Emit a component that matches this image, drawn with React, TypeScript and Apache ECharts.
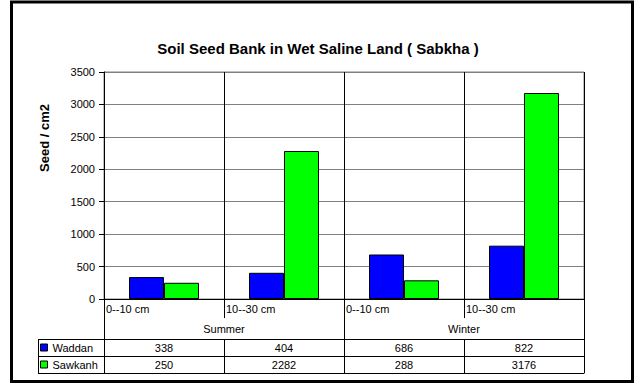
import React, { useEffect, useRef } from "react";
import * as echarts from "echarts";

const categories = ["0--10 cm", "10--30 cm", "0--10 cm", "10--30 cm"];
const seasons = ["Summer", "Winter"];
const waddan = [338, 404, 686, 822];
const sawkanh = [250, 2282, 288, 3176];
const seriesNames = ["Waddan", "Sawkanh"];
const yTicks = { min: 0, max: 3500, interval: 500 };

const FONT = "'Liberation Sans', Arial, sans-serif";

export default function App() {
  const ref = useRef<HTMLDivElement>(null);
  useEffect(() => {
    if (!ref.current) return;
    const chart = echarts.init(ref.current, null, { renderer: "svg" });
    const black = "#000";
    const tableAxis = (data: string[], offset: number, tickLen: number, margin: number) => ({
      type: "category",
      gridIndex: 0,
      position: "bottom",
      offset,
      data,
      axisLine: { show: true, lineStyle: { color: black, width: 1 } },
      axisTick: { show: true, inside: true, length: tickLen, interval: 0, lineStyle: { color: black } },
      axisLabel: { show: true, inside: true, margin, interval: 0, color: black, fontSize: 11, fontFamily: FONT },
      splitLine: { show: false },
    });
    chart.setOption({
      animation: false,
      backgroundColor: "#fff",
      textStyle: { fontFamily: FONT },
      title: {
        text: "Soil Seed Bank in Wet Saline Land ( Sabkha )",
        left: "center",
        top: 36,
        textStyle: { fontSize: 15, fontWeight: "bold", color: black, fontFamily: FONT },
      },
      legend: {
        data: seriesNames,
        orient: "vertical",
        left: 40,
        top: 341,
        padding: 0,
        icon: "rect",
        itemWidth: 7,
        itemHeight: 7,
        itemGap: 4,
        itemStyle: { borderColor: black, borderWidth: 1 },
        textStyle: { fontSize: 11, color: black, fontFamily: FONT, height: 13, lineHeight: 13, verticalAlign: "middle" },
        selectedMode: false,
      },
      grid: { left: 104, top: 72, width: 480, height: 227, show: true, borderColor: "#808080", borderWidth: 1 },
      xAxis: [
        {
          type: "category",
          data: categories,
          position: "bottom",
          axisLine: { show: true, lineStyle: { color: black, width: 1 } },
          axisTick: { show: true, length: 19, interval: 0, lineStyle: { color: black } },
          axisLabel: {
            interval: 0,
            margin: 4,
            color: black,
            fontSize: 11,
            fontFamily: FONT,
            formatter: (v: string) => `{l|${v}}`,
            rich: { l: { width: 116, align: "left", fontSize: 11, color: black, fontFamily: FONT } },
          },
          splitLine: { show: true, interval: 0, lineStyle: { color: black, width: 1 } },
        },
        tableAxis(seasons, 40, 40, 5),
        tableAxis(waddan.map(String), 57, 17, 3),
        tableAxis(sawkanh.map(String), 74, 17, 3),
      ],
      yAxis: {
        type: "value",
        min: yTicks.min,
        max: yTicks.max,
        interval: yTicks.interval,
        axisLine: { show: true, lineStyle: { color: black, width: 1 } },
        axisTick: { show: true, length: 5, lineStyle: { color: black } },
        axisLabel: { color: black, fontSize: 11, margin: 9, fontFamily: FONT, formatter: (v: number) => String(v) },
        splitLine: { show: true, lineStyle: { color: "#808080", width: 1 } },
      },
      series: [
        {
          name: seriesNames[0],
          type: "bar",
          data: waddan,
          barWidth: 35,
          barGap: "0%",
          itemStyle: { color: "#0000FF", borderColor: black, borderWidth: 1 },
        },
        {
          name: seriesNames[1],
          type: "bar",
          data: sawkanh,
          barWidth: 35,
          barGap: "0%",
          itemStyle: { color: "#00FF00", borderColor: black, borderWidth: 1 },
        },
      ],
      graphic: [
        {
          type: "rect",
          shape: { x: 11.5, y: 2, width: 621, height: 379.5 },
          style: { fill: "none", stroke: black, lineWidth: 3 },
          silent: true,
        },
        {
          type: "text",
          x: 44,
          y: 138,
          rotation: Math.PI / 2,
          style: {
            text: "Seed / cm2",
            fontSize: 13,
            fontWeight: "bold",
            fontFamily: FONT,
            fill: black,
            align: "center",
            verticalAlign: "middle",
          },
        },
        { type: "line", shape: { x1: 38, y1: 339.5, x2: 104, y2: 339.5 }, style: { stroke: black, lineWidth: 1 } },
        { type: "line", shape: { x1: 38, y1: 356.5, x2: 104, y2: 356.5 }, style: { stroke: black, lineWidth: 1 } },
        { type: "line", shape: { x1: 38, y1: 373.5, x2: 104, y2: 373.5 }, style: { stroke: black, lineWidth: 1 } },
        { type: "line", shape: { x1: 38.5, y1: 339.5, x2: 38.5, y2: 373.5 }, style: { stroke: black, lineWidth: 1 } },
      ],
    });
    return () => chart.dispose();
  }, []);
  return (
    <div
      ref={ref}
      style={{ position: "fixed", left: 0, top: 0, width: 636, height: 385, background: "#fff" }}
    />
  );
}
